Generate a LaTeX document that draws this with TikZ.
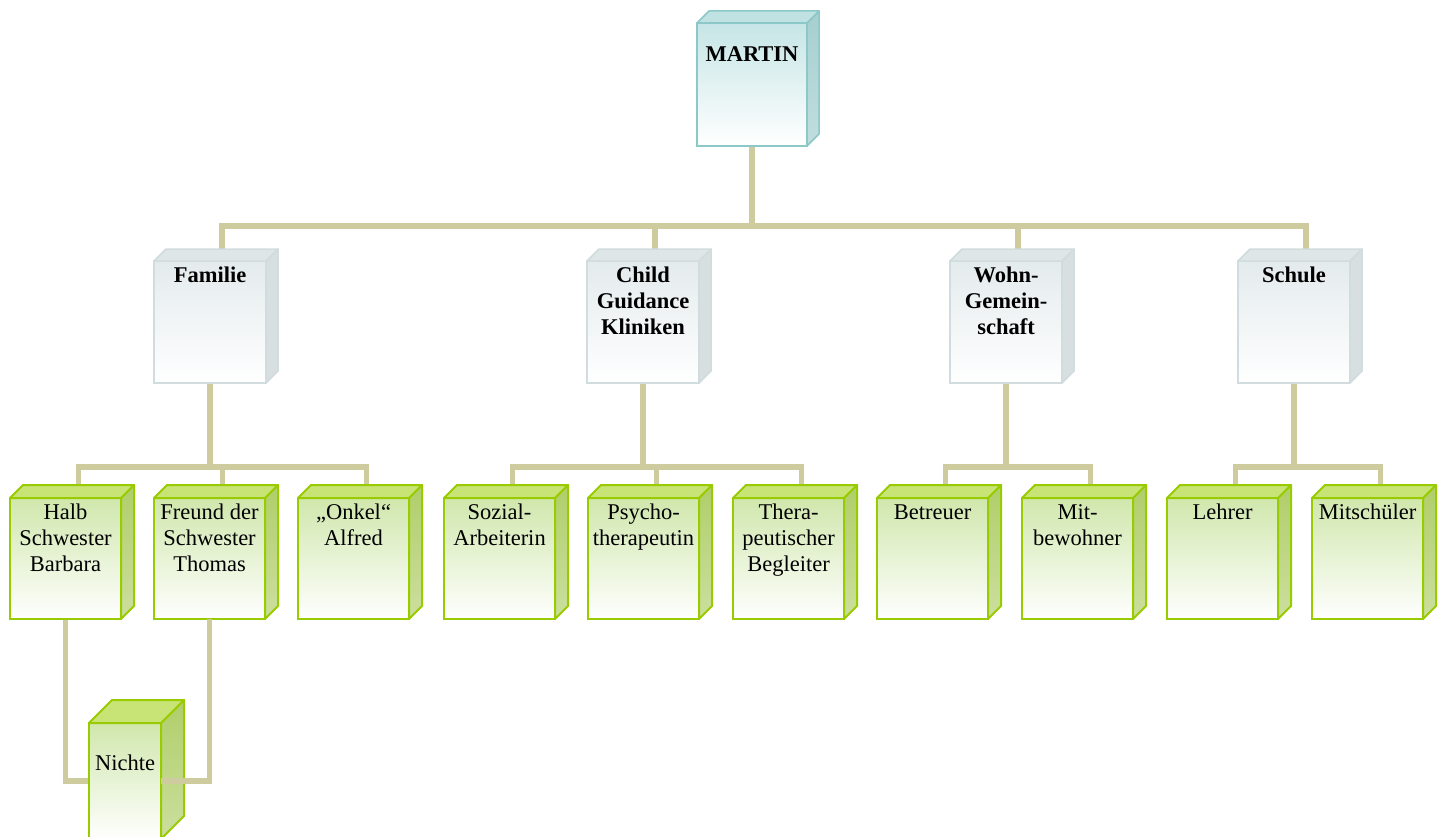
\documentclass[tikz,border=0pt]{standalone}
\usepackage{fontspec}
\setmainfont{Liberation Serif}
\usetikzlibrary{calc}
\pgfdeclarelayer{bg}
\pgfsetlayers{bg,main}
\definecolor{connc}{RGB}{206,204,158}
\definecolor{mFront}{RGB}{198,229,230}
\definecolor{mBorder}{RGB}{140,200,200}
\definecolor{mSide}{RGB}{166,207,208}
\definecolor{mTop}{RGB}{192,226,227}
\definecolor{gFront}{RGB}{228,235,237}
\definecolor{gBorder}{RGB}{208,220,221}
\definecolor{gSide}{RGB}{216,223,225}
\definecolor{gTop}{RGB}{222,230,232}
\definecolor{lFront}{RGB}{208,231,172}
\definecolor{lBorder}{RGB}{153,204,0}
\definecolor{lSide}{RGB}{176,206,106}
\definecolor{lTop}{RGB}{200,227,118}
\tikzset{
  x=1pt,y=-1pt,
  conn/.style={draw=connc,line width=5.5pt},
  boxbase/.style={inner sep=0pt,outer sep=0pt,align=center},
  mfront/.style={boxbase,draw=mBorder,line width=1.5pt,top color=mFront,middle color=mFront!45!white,bottom color=white,font=\fontsize{22.5}{26}\selectfont\bfseries},
  mside/.style={draw=mBorder,line width=1.5pt,top color=mSide,bottom color=mSide!70!white,line join=round},
  mtop/.style={draw=mBorder,line width=1.5pt,fill=mTop,line join=round},
  gfront/.style={boxbase,draw=gBorder,line width=1.5pt,top color=gFront,middle color=gFront!55!white,bottom color=white,font=\fontsize{22.5}{26}\selectfont\bfseries},
  gside/.style={draw=gBorder,line width=1.5pt,fill=gSide,line join=round},
  gtop/.style={draw=gBorder,line width=1.5pt,fill=gTop,line join=round},
  lfront/.style={boxbase,draw=lBorder,line width=2pt,top color=lFront,middle color=lFront!50!white,bottom color=white,font=\fontsize{22.5}{26}\selectfont},
  lside/.style={draw=lBorder,line width=2pt,top color=lSide,bottom color=lSide!65!white,line join=round},
  ltop/.style={draw=lBorder,line width=2pt,fill=lTop,line join=round},
}
% name, left, top, width, height, depth, style prefix, first baseline, text
\newcommand{\cube}[9]{%
  \node[#7front,anchor=north west] (#1) at (#2,#3)
    {\parbox[t][#5pt][t]{#4pt}{\centering\rule{0pt}{#8pt}#9}};
  \draw[#7side] (#1.north east) -- ++(#6,-#6) -- ($(#1.south east)+(#6,-#6)$) -- (#1.south east) -- cycle;
  \draw[#7top] (#1.north west) -- ++(#6,-#6) -- ($(#1.north east)+(#6,-#6)$) -- (#1.north east) -- cycle;
  \coordinate (#1t) at ($(#1.north)+(#6,-#6)$);
}
\begin{document}
\begin{tikzpicture}
\clip (0,0) rectangle (1447,837);
\coordinate (busA) at (0,226);
\coordinate (busB) at (0,467);
\coordinate (busC) at (0,781);
\cube{martin}{697}{23}{110}{123}{12}{m}{39}{MARTIN}
\cube{familie}{154}{261}{112}{122}{12}{g}{21}{Familie}
\cube{child}{587}{261}{112}{122}{12}{g}{21}{Child\\Guidance\\Kliniken}
\cube{wohn}{950}{261}{112}{122}{12}{g}{21}{Wohn-\\Gemein-\\schaft}
\cube{schule}{1238}{261}{112}{122}{12}{g}{21}{Schule}
\cube{halb}{10}{498}{111}{121}{13}{l}{21}{Halb\\Schwester\\Barbara}
\cube{freund}{154}{498}{111}{121}{13}{l}{21}{Freund der\\Schwester\\Thomas}
\cube{onkel}{298}{498}{111}{121}{13}{l}{21}{„Onkel“\\Alfred}
\cube{sozial}{444}{498}{111}{121}{13}{l}{21}{Sozial-\\Arbeiterin}
\cube{psycho}{588}{498}{111}{121}{13}{l}{21}{Psycho-\\therapeutin}
\cube{thera}{733}{498}{111}{121}{13}{l}{21}{Thera-\\peutischer\\Begleiter}
\cube{betreuer}{877}{498}{111}{121}{13}{l}{21}{Betreuer}
\cube{mitbew}{1022}{498}{111}{121}{13}{l}{21}{Mit-\\bewohner}
\cube{lehrer}{1167}{498}{111}{121}{13}{l}{21}{Lehrer}
\cube{mitsch}{1312}{498}{111}{121}{13}{l}{21}{Mitschüler}
\cube{nichte}{89}{723}{72}{116}{23}{l}{47}{Nichte}
\begin{pgfonlayer}{bg}
\fill[white] (0,0) rectangle (1447,837);
\draw[conn] (martin.south) -- (martin.south |- busA);
\draw[conn] (familiet) |- (schulet |- busA) -- (schulet);
\draw[conn] (childt) -- (childt |- busA);
\draw[conn] (wohnt) -- (wohnt |- busA);
\draw[conn] (familie.south) -- (familie.south |- busB);
\draw[conn] (halbt) |- (onkelt |- busB) -- (onkelt);
\draw[conn] (freundt) -- (freundt |- busB);
\draw[conn] (child.south) -- (child.south |- busB);
\draw[conn] (sozialt) |- (therat |- busB) -- (therat);
\draw[conn] (psychot) -- (psychot |- busB);
\draw[conn] (wohn.south) -- (wohn.south |- busB);
\draw[conn] (betreuert) |- (mitbewt |- busB) -- (mitbewt);
\draw[conn] (schule.south) -- (schule.south |- busB);
\draw[conn] (lehrert) |- (mitscht |- busB) -- (mitscht);
\draw[conn] (halb.south) |- (nichte.west |- busC);
\end{pgfonlayer}
\draw[conn] (freund.south) |- (nichte.east |- busC);
\end{tikzpicture}
\end{document}
